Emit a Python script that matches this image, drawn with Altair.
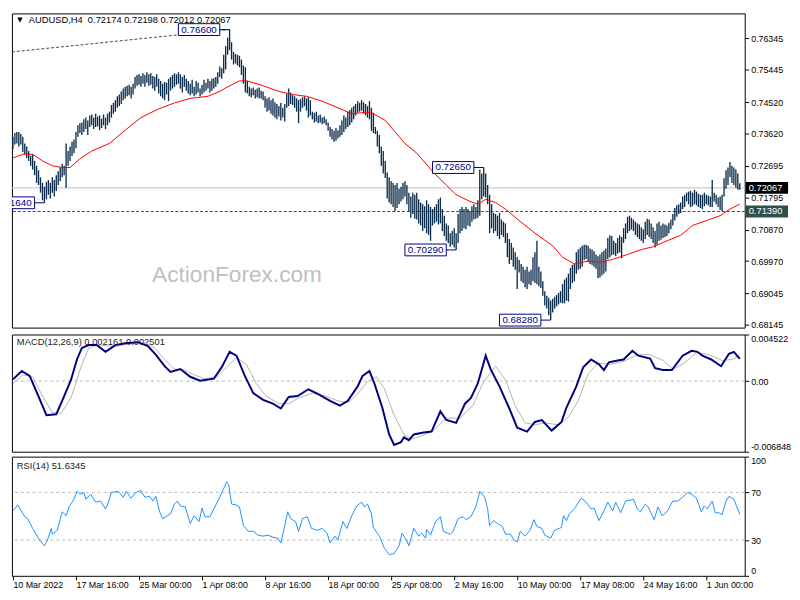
import json
import altair as alt
import pandas as pd

# ---------------- data ----------------
# bar index 0 = 10 Mar 2022 00:00, H4 bars
x_tick_bars = [0, 32, 64, 96, 128, 160, 192, 224, 256, 288, 320, 352]
x_tick_labels = ["10 Mar 2022", "17 Mar 16:00", "25 Mar 00:00", "1 Apr 08:00",
                 "8 Apr 16:00", "18 Apr 00:00", "25 Apr 08:00", "2 May 16:00",
                 "10 May 00:00", "17 May 08:00", "24 May 16:00", "1 Jun 00:00"]
price_ticks = [0.76345, 0.75445, 0.74520, 0.73620, 0.72695, 0.71795,
               0.70870, 0.69970, 0.69045, 0.68145]
macd_ticks = [0.004522, 0.0, -0.006848]
rsi_ticks = [100, 70, 30, 0]
rsi_levels = [70, 30]

# bar highs / lows in pips (1/10000)
high_pips = [
    7353, 7364, 7367, 7367, 7361, 7353, 7334, 7325, 7312, 7298,
    7303, 7284, 7270, 7257, 7237, 7221, 7210, 7224, 7229, 7221,
    7237, 7229, 7243, 7254, 7265, 7276, 7270, 7334, 7312, 7325,
    7339, 7345, 7367, 7386, 7392, 7394, 7403, 7408, 7400, 7414,
    7417, 7408, 7419, 7411, 7414, 7405, 7417, 7408, 7419, 7425,
    7444, 7450, 7458, 7469, 7474, 7483, 7491, 7496, 7499, 7502,
    7496, 7505, 7524, 7530, 7532, 7527, 7535, 7530, 7538, 7532,
    7535, 7527, 7524, 7532, 7519, 7513, 7505, 7510, 7508, 7519,
    7524, 7530, 7535, 7532, 7538, 7532, 7524, 7530, 7519, 7513,
    7505, 7516, 7496, 7513, 7508, 7491, 7502, 7516, 7508, 7519,
    7513, 7519, 7521, 7524, 7538, 7554, 7549, 7588, 7612, 7637,
    7660, 7624, 7596, 7590, 7588, 7585, 7574, 7557, 7552, 7513,
    7496, 7491, 7494, 7488, 7491, 7494, 7485, 7483, 7469, 7463,
    7466, 7458, 7463, 7452, 7447, 7441, 7450, 7436, 7447, 7477,
    7491, 7480, 7472, 7469, 7463, 7458, 7461, 7466, 7469, 7463,
    7466, 7458, 7425, 7422, 7425, 7414, 7417, 7408, 7411, 7403,
    7394, 7381, 7375, 7370, 7378, 7372, 7386, 7400, 7414, 7408,
    7425, 7430, 7436, 7441, 7447, 7455, 7450, 7458, 7452, 7447,
    7441, 7455, 7436, 7422, 7381, 7370, 7358, 7325, 7312, 7284,
    7251, 7237, 7226, 7221, 7215, 7221, 7204, 7210, 7221, 7226,
    7215, 7193, 7182, 7193, 7187, 7193, 7174, 7165, 7160, 7154,
    7171, 7160, 7152, 7146, 7152, 7160, 7174, 7179, 7146, 7127,
    7105, 7099, 7077, 7083, 7091, 7077, 7132, 7146, 7152, 7146,
    7152, 7146, 7141, 7154, 7160, 7152, 7171, 7259, 7248, 7265,
    7248, 7215, 7187, 7160, 7135, 7132, 7127, 7135, 7116, 7110,
    7105, 7077, 7060, 7049, 7036, 7022, 7008, 7000, 6989, 6981,
    6972, 6981, 6967, 6972, 7008, 7022, 7055, 6981, 6967, 6939,
    6911, 6898, 6892, 6884, 6889, 6895, 6900, 6906, 6911, 6931,
    6944, 6950, 6961, 6978, 6986, 6989, 7022, 7030, 7036, 7041,
    7044, 7044, 7041, 7033, 7030, 7025, 7016, 7011, 7016, 7022,
    7027, 7033, 7063, 7071, 7069, 7055, 7049, 7063, 7071, 7066,
    7091, 7105, 7124, 7127, 7121, 7116, 7110, 7105, 7102, 7094,
    7088, 7110, 7118, 7116, 7105, 7094, 7083, 7105, 7110, 7099,
    7105, 7102, 7099, 7107, 7116, 7132, 7149, 7157, 7160, 7165,
    7182, 7187, 7193, 7196, 7198, 7193, 7201, 7196, 7190, 7187,
    7187, 7193, 7187, 7185, 7182, 7229, 7193, 7187, 7179, 7182,
    7187, 7234, 7257, 7265, 7281, 7270, 7265, 7259, 7248, 7220,
]
low_pips = [
    7317, 7331, 7334, 7325, 7331, 7309, 7303, 7292, 7284, 7270,
    7259, 7243, 7221, 7215, 7193, 7171, 7164, 7174, 7187, 7176,
    7193, 7182, 7198, 7215, 7226, 7237, 7243, 7207, 7270, 7284,
    7298, 7306, 7320, 7353, 7364, 7358, 7367, 7375, 7358, 7381,
    7386, 7375, 7381, 7383, 7372, 7378, 7386, 7375, 7386, 7394,
    7408, 7419, 7425, 7436, 7441, 7447, 7458, 7463, 7469, 7472,
    7463, 7474, 7491, 7499, 7502, 7496, 7505, 7496, 7508, 7499,
    7502, 7491, 7485, 7496, 7477, 7469, 7463, 7458, 7474, 7455,
    7485, 7491, 7496, 7502, 7505, 7491, 7480, 7496, 7485, 7477,
    7472, 7477, 7469, 7474, 7480, 7469, 7474, 7480, 7485, 7491,
    7480, 7485, 7491, 7496, 7505, 7524, 7519, 7535, 7546, 7588,
    7601, 7574, 7560, 7563, 7557, 7552, 7530, 7505, 7480, 7477,
    7469, 7466, 7472, 7463, 7466, 7463, 7463, 7458, 7436, 7425,
    7428, 7419, 7414, 7408, 7403, 7411, 7400, 7408, 7397, 7436,
    7441, 7447, 7444, 7436, 7425, 7392, 7425, 7436, 7441, 7428,
    7408, 7414, 7403, 7394, 7397, 7392, 7394, 7389, 7392, 7386,
    7370, 7353, 7345, 7339, 7342, 7348, 7353, 7358, 7367, 7375,
    7381, 7386, 7394, 7403, 7414, 7422, 7425, 7428, 7419, 7414,
    7408, 7403, 7370, 7364, 7361, 7325, 7306, 7270, 7248, 7235,
    7176, 7165, 7160, 7152, 7140, 7149, 7160, 7168, 7174, 7182,
    7160, 7140, 7121, 7132, 7118, 7116, 7105, 7099, 7083, 7091,
    7077, 7072, 7055, 7099, 7105, 7110, 7102, 7105, 7083, 7069,
    7055, 7049, 7038, 7044, 7036, 7029, 7049, 7077, 7083, 7091,
    7088, 7099, 7096, 7110, 7116, 7118, 7121, 7127, 7174, 7182,
    7179, 7160, 7077, 7091, 7077, 7083, 7069, 7060, 7072, 7066,
    7049, 7008, 6989, 7000, 6981, 6972, 6917, 6964, 6939, 6934,
    6922, 6917, 6931, 6928, 6939, 6934, 6931, 6925, 6920, 6898,
    6870, 6861, 6842, 6828, 6850, 6861, 6867, 6873, 6878, 6876,
    6876, 6884, 6881, 6917, 6934, 6939, 6961, 6972, 6975, 6981,
    7000, 7003, 6994, 6989, 6986, 6981, 6975, 6948, 6950, 6956,
    6961, 6967, 7003, 7008, 7014, 7016, 7011, 7019, 7022, 7005,
    7049, 7060, 7077, 7083, 7088, 7083, 7072, 7066, 7060, 7055,
    7049, 7060, 7072, 7066, 7060, 7049, 7036, 7044, 7055, 7058,
    7063, 7066, 7069, 7077, 7088, 7099, 7113, 7124, 7132, 7135,
    7146, 7152, 7168, 7160, 7152, 7154, 7160, 7157, 7152, 7149,
    7146, 7154, 7160, 7157, 7152, 7152, 7168, 7160, 7152, 7143,
    7139, 7182, 7204, 7215, 7237, 7221, 7215, 7207, 7201, 7201,
]

# red moving average (bar index, pips)
ma_bars = [0, 5, 10, 15, 20, 25, 29, 34, 40, 49, 57, 65, 74, 82, 90, 99, 105, 109,
           115, 119, 127, 135, 142, 149, 157, 165, 172, 177, 182, 189, 194, 199,
           205, 214, 220, 225, 232, 236, 240, 245, 250, 257, 265, 274, 279, 285,
           292, 299, 305, 312, 319, 325, 332, 339, 345, 352, 359, 364, 369]
ma_pips = [7292, 7303, 7303, 7284, 7270, 7265, 7265, 7290, 7312, 7334, 7372, 7408,
           7433, 7450, 7463, 7469, 7483, 7496, 7513, 7513, 7499, 7483, 7474, 7469,
           7455, 7436, 7419, 7422, 7422, 7400, 7367, 7334, 7306, 7248, 7215, 7187,
           7168, 7160, 7174, 7165, 7146, 7113, 7077, 7041, 7008, 6989, 6997, 6994,
           7003, 7016, 7030, 7038, 7055, 7071, 7099, 7113, 7127, 7146, 7160]

# MACD main line
macd_bars = [0, 4.5, 8.5, 12.5, 17, 22, 25, 29.5, 32.5, 35, 38.5, 42.5, 47, 52, 57,
             63.5, 68.5, 72.5, 77, 80, 85, 90, 95, 102, 106, 110, 113.5, 117.5, 122,
             127, 132, 136, 140, 144.5, 150, 155, 161, 166, 170, 175, 177.5, 181,
             183.5, 187.5, 191, 193.5, 197, 198.5, 201, 203.5, 208.5, 212.5, 217,
             220, 225, 229.5, 232.5, 236, 240, 242.5, 247, 252, 256, 261, 265, 268.5,
             273.5, 278.5, 281, 286, 289.5, 293.5, 297.5, 300, 302.5, 307, 310,
             314.5, 317.5, 323.5, 326, 330, 334.5, 340, 344.5, 347.5, 350, 354.5,
             359.5, 363.5, 366, 369]
macd_values = [0.000170, 0.000980, 0.000514, -0.001256, -0.003307, -0.003214,
               -0.001909, 0.000142, 0.002099, 0.003217, 0.003497, 0.003497,
               0.002844, 0.003497, 0.003683, 0.003776, 0.003404, 0.002565,
               0.001446, 0.000887, 0.001167, 0.000421, 0.000048, 0.000235,
               0.001353, 0.002844, 0.002472, 0.000608, -0.001163, -0.001816,
               -0.002188, -0.002654, -0.001536, -0.001443, -0.000790, -0.001256,
               -0.001909, -0.002375, -0.001909, -0.000511, 0.000514, 0.000980,
               -0.000231, -0.002561, -0.005171, -0.006196, -0.005916, -0.005450,
               -0.005730, -0.005171, -0.004984, -0.004891, -0.002934, -0.003773,
               -0.004052, -0.002188, -0.001629, -0.000231, 0.002472, 0.001167,
               -0.000511, -0.002654, -0.004518, -0.004891, -0.003959, -0.003773,
               -0.004798, -0.003959, -0.002561, -0.000511, 0.001353, 0.002099,
               0.001633, 0.001074, 0.001819, 0.002006, 0.002099, 0.002938,
               0.002472, 0.002192, 0.001260, 0.001074, 0.001074, 0.002472,
               0.002938, 0.002844, 0.002472, 0.002099, 0.001446, 0.002658,
               0.002844, 0.002161]

# MACD signal line
signal_bars = [0, 5, 10, 15, 20, 24.5, 29.5, 34.5, 38.5, 42.5, 48.5, 53.5, 60, 67,
               72, 77, 82, 87, 92, 97, 103.5, 108.5, 113.5, 118.5, 123.5, 128.5,
               135, 140, 145, 152, 158.5, 165, 170, 175, 180, 184.5, 188.5, 193.5,
               198.5, 202, 207, 213.5, 220, 227, 233.5, 238.5, 245, 250, 255, 260,
               265, 270, 277, 282, 287, 292, 297, 303.5, 310, 317, 323.5, 330, 335,
               340, 347, 353.5, 360, 365, 369]
signal_values = [-0.000231, 0.000608, 0.000421, -0.001443, -0.003027, -0.003120,
                 -0.001629, 0.001353, 0.003217, 0.003497, 0.003404, 0.003404,
                 0.003683, 0.003683, 0.003217, 0.002099, 0.001167, 0.001074,
                 0.000608, 0.000235, 0.000421, 0.001353, 0.002285, 0.001633,
                 -0.000231, -0.001443, -0.002188, -0.002188, -0.001629, -0.001163,
                 -0.001443, -0.001909, -0.002095, -0.001256, -0.000045, 0.000421,
                 -0.000697, -0.003307, -0.005171, -0.005637, -0.005357, -0.004798,
                 -0.003586, -0.003586, -0.002375, -0.000231, 0.001446, 0.000142,
                 -0.002375, -0.004052, -0.004239, -0.004052, -0.004239, -0.003493,
                 -0.001909, 0.000701, 0.001726, 0.001633, 0.001912, 0.002565,
                 0.002565, 0.002006, 0.001167, 0.001633, 0.002751, 0.002565,
                 0.002006, 0.002099, 0.002501]

# RSI(14)
rsi_bars = [0, 2.5, 6, 7.5, 10, 13.5, 16, 17.5, 19.5, 20, 22.5, 25, 27, 28.5, 31,
            32.5, 34.5, 36, 37, 39.5, 42, 44.5, 47, 48.5, 50, 53.5, 56, 57.5, 60,
            62.5, 65, 67, 69.5, 71, 72.5, 74.5, 76, 78.5, 80, 82, 83.5, 85, 87.5,
            90, 92, 94.5, 96, 97.5, 100, 102, 104.5, 106, 107.5, 108.5, 109.5, 111,
            113.5, 115, 117, 119.5, 122, 124.5, 127, 129.5, 132, 134.5, 136, 137.5,
            139.5, 141, 143.5, 145, 147, 149.5, 151.5, 154.5, 157, 159.5, 161,
            163.5, 165, 167.5, 169.5, 172, 174.5, 177, 178.5, 180, 182, 183, 186,
            188.5, 191, 193.5, 196, 197.5, 198.5, 200, 201, 203.5, 206, 207.5,
            209.5, 210, 212, 214.5, 217, 218.5, 222, 223.5, 226, 228.5, 230, 232.5,
            235, 237, 239.5, 241, 242, 244, 246, 248.5, 250, 252.5, 254.5, 256,
            257.5, 260, 262.5, 264.5, 266, 268.5, 270, 273, 275, 278.5, 279.5, 281,
            282.5, 285, 288.5, 291, 293.5, 295, 297.5, 300, 302, 304.5, 306, 308.5,
            311, 313.5, 315, 317, 318.5, 321, 322.5, 325.5, 327.5, 329.5, 332, 335,
            337.5, 340, 342.5, 344.5, 347, 349.5, 351, 352.5, 355, 356.5, 358.5,
            360, 362, 363.5, 366, 367.5, 369]
rsi_values = [54.5, 59.4, 49.6, 48.0, 39.8, 30.0, 25.1, 30.0, 39.8, 34.9, 38.2, 53.7,
              50.4, 57.8, 64.3, 70.8, 68.4, 70.0, 64.3, 68.4, 61.8, 62.7, 56.1, 61.8,
              70.0, 70.8, 65.9, 70.8, 65.1, 70.0, 71.6, 65.9, 66.7, 62.7, 66.7, 53.7,
              48.0, 50.4, 52.0, 60.2, 62.7, 58.6, 57.8, 43.9, 50.4, 45.5, 56.9, 49.6,
              49.6, 56.1, 64.3, 70.0, 74.9, 79.0, 76.5, 60.2, 59.4, 57.8, 42.2, 37.3,
              37.3, 34.1, 33.3, 34.1, 32.4, 31.6, 27.6, 38.2, 53.7, 48.0, 45.5, 37.3,
              48.0, 49.6, 39.8, 38.2, 39.8, 35.7, 27.6, 33.3, 30.0, 45.5, 39.8, 50.4,
              58.6, 61.8, 57.8, 60.2, 52.0, 40.6, 33.3, 23.5, 17.8, 18.6, 25.1, 35.7,
              33.3, 29.2, 25.1, 39.8, 33.3, 35.7, 31.6, 39.0, 34.1, 45.5, 49.6, 37.3,
              34.9, 37.3, 48.0, 49.6, 47.1, 49.6, 57.8, 70.8, 65.9, 56.1, 42.2, 46.3,
              43.9, 41.4, 34.9, 34.9, 30.0, 28.4, 37.3, 33.3, 38.2, 47.1, 41.4, 39.8,
              34.1, 31.6, 38.2, 40.6, 50.4, 46.3, 52.0, 56.1, 65.1, 61.8, 56.1, 56.9,
              46.3, 54.5, 61.8, 54.5, 61.8, 52.9, 62.7, 63.5, 64.3, 56.1, 53.7, 60.2,
              57.8, 47.1, 57.8, 50.4, 53.7, 62.7, 62.7, 65.9, 70.0, 68.4, 65.1, 53.7,
              58.6, 56.1, 62.7, 52.9, 52.9, 51.2, 62.7, 66.7, 64.3, 57.8, 51.6345]

# swing high / low labels
swing_bars = [110, 239, 225, 273, 16]
swing_prices = [0.76600, 0.72650, 0.70290, 0.68280, 0.71640]
# drawn trend line (start, end)
trend_bars = [-0.5, 110]
trend_prices = [0.7596, 0.7660]
last_price = 0.72067
level_price = 0.71390
header_main = "AUDUSD,H4 \u00a00.72174 0.72198 0.72012 0.72067"
header_macd = "MACD(12,26,9) 0.002161 0.002501"
header_rsi = "RSI(14) 51.6345"
watermark_text = "ActionForex.com"

# ---------------- chart ----------------
W = 744
H_MAIN = 319
H_MACD = 119
H_RSI = 121
FONT = "Liberation Sans"
BAR_COLOR = "#0b2b4a"
NAVY = "#000080"
SLATE = "#2f4f4f"

x_scale = alt.Scale(domain=[-0.5, 371.5], nice=False, zero=False)
price_scale = alt.Scale(domain=[0.68065, 0.77063], nice=False, zero=False)
macd_scale = alt.Scale(domain=[-0.006848, 0.004522], nice=False, zero=False)
rsi_scale = alt.Scale(domain=[0, 100], nice=False, zero=False)

price_axis = alt.Axis(orient="right", values=price_ticks, format=".5f", title=None,
                      tickSize=4, labelPadding=2, grid=False, domain=False)
macd_axis = alt.Axis(orient="right", values=macd_ticks, title=None, tickSize=4,
                     labelPadding=2, grid=False, domain=False, labelFlush=True,
                     labelExpr="datum.value == 0 ? '0.00' : (datum.value < 0 ? '-' + format(-datum.value, '.6f') : format(datum.value, '.6f'))")
rsi_axis = alt.Axis(orient="right", values=rsi_ticks, format="d", title=None,
                    tickSize=4, labelPadding=2, grid=False, domain=False, labelFlush=True)
x_axis = alt.Axis(values=x_tick_bars, title=None, tickSize=4, labelPadding=1,
                  labelAlign="left", labelOverlap=False, labelFlush=False,
                  grid=False, domain=False,
                  labelExpr=json.dumps(x_tick_labels) + "[indexof(" + json.dumps(x_tick_bars) + ", datum.value)]")

XN = alt.X("bar:Q", scale=x_scale, axis=None)


def PY(field):
    return alt.Y(field, type="quantitative", scale=price_scale, axis=price_axis)


bars_df = pd.DataFrame({"bar": list(range(len(high_pips))),
                        "high": [h / 10000 for h in high_pips],
                        "low": [v / 10000 for v in low_pips]})
ma_df = pd.DataFrame({"bar": ma_bars, "ma": [v / 10000 for v in ma_pips]})
swing_df = pd.DataFrame({"bar": swing_bars, "price": swing_prices,
                         "text": [f"{p:.5f}" for p in swing_prices]})
trend_df = pd.DataFrame({"bar": trend_bars, "price": trend_prices})
tags_df = pd.DataFrame({"price": [last_price, level_price],
                        "text": [f"{last_price:.5f}", f"{level_price:.5f}"],
                        "bg": ["#000000", SLATE]})

watermark = alt.Chart(pd.DataFrame({"bar": [113.75], "price": [0.69556], "text": [watermark_text]})).mark_text(
    font=FONT, fontSize=23, color="#c0c0c0", align="center", baseline="middle"
).encode(x=XN, y=PY("price"), text="text:N")

last_rule = alt.Chart(pd.DataFrame({"price": [last_price]})).mark_rule(
    color="#c0c0c0", strokeWidth=1).encode(y=PY("price"))
level_rule = alt.Chart(pd.DataFrame({"price": [level_price]})).mark_rule(
    color=SLATE, strokeWidth=1, strokeDash=[3, 2]).encode(y=PY("price"))
trend = alt.Chart(trend_df).mark_line(color=SLATE, strokeWidth=1, strokeDash=[3, 2], clip=True).encode(
    x=XN, y=PY("price"))
bars = alt.Chart(bars_df).mark_rule(color=BAR_COLOR, strokeWidth=1.35).encode(
    x=XN, y=PY("low"), y2="high:Q")
ma = alt.Chart(ma_df).mark_line(color="#ff0000", strokeWidth=1).encode(x=XN, y=PY("ma"))
conn = alt.Chart(swing_df).mark_rule(color=NAVY, strokeWidth=1, xOffset=-10, clip=True).encode(
    x=XN, x2="bar:Q", y=PY("price"))
box = alt.Chart(swing_df).mark_rect(fill="white", stroke=NAVY, strokeWidth=1,
                                    xOffset=-52, x2Offset=-10, yOffset=-6, y2Offset=6,
                                    clip=True).encode(
    x=XN, x2="bar:Q", y=PY("price"), y2="price:Q")
box_text = alt.Chart(swing_df).mark_text(font=FONT, fontSize=10, color=NAVY, dx=-31,
                                         align="center", baseline="middle", clip=True).encode(
    x=XN, y=PY("price"), text="text:N")
hdr = alt.Chart(pd.DataFrame({"bar": [8], "price": [0.7688], "text": [header_main]})).mark_text(
    font=FONT, fontSize=9.5, color="black", align="left", baseline="middle").encode(
    x=XN, y=PY("price"), text="text:N")
tri = alt.Chart(pd.DataFrame({"bar": [3.5], "price": [0.7688], "text": ["\u25bc"]})).mark_text(
    font="DejaVu Sans", fontSize=7, color="black", align="center", baseline="middle").encode(
    x=XN, y=PY("price"), text="text:N")
tag_rect = alt.Chart(tags_df).mark_rect(yOffset=-6, y2Offset=6).encode(
    x=alt.value(W + 1), x2=alt.value(W + 44), y=PY("price"), y2="price:Q",
    color=alt.Color("bg:N", scale=None))
tag_text = alt.Chart(tags_df).mark_text(font=FONT, fontSize=9.5, color="white",
                                        align="left", baseline="middle").encode(
    x=alt.value(W + 4), y=PY("price"), text="text:N")

main = alt.layer(watermark, last_rule, level_rule, trend, bars, ma, conn, box, box_text,
                 hdr, tri, tag_rect, tag_text).properties(width=W, height=H_MAIN)

# MACD panel
MY = lambda f: alt.Y(f, type="quantitative", scale=macd_scale, axis=macd_axis)
macd_hdr = alt.Chart(pd.DataFrame({"bar": [2], "v": [0.00375], "text": [header_macd]})).mark_text(
    font=FONT, fontSize=9.5, color="#222222", align="left", baseline="middle").encode(
    x=XN, y=MY("v"), text="text:N")
macd_zero = alt.Chart(pd.DataFrame({"v": [0.0]})).mark_rule(
    color="#b8b8b8", strokeDash=[3, 3], strokeWidth=1).encode(y=MY("v"))
sig_line = alt.Chart(pd.DataFrame({"bar": signal_bars, "v": signal_values})).mark_line(
    color="#b4b4b4", strokeWidth=1).encode(x=XN, y=MY("v"))
macd_line = alt.Chart(pd.DataFrame({"bar": macd_bars, "v": macd_values})).mark_line(
    color=NAVY, strokeWidth=2).encode(x=XN, y=MY("v"))
macd_panel = alt.layer(macd_hdr, macd_zero, sig_line, macd_line).properties(width=W, height=H_MACD)

# RSI panel
XR = alt.X("bar:Q", scale=x_scale, axis=x_axis)
RY = lambda f: alt.Y(f, type="quantitative", scale=rsi_scale, axis=rsi_axis)
rsi_hdr = alt.Chart(pd.DataFrame({"bar": [2], "v": [92], "text": [header_rsi]})).mark_text(
    font=FONT, fontSize=9.5, color="#222222", align="left", baseline="middle").encode(
    x=XR, y=RY("v"), text="text:N")
rsi_lv = alt.Chart(pd.DataFrame({"v": rsi_levels})).mark_rule(
    color="#b8b8b8", strokeDash=[3, 3], strokeWidth=1).encode(y=RY("v"))
rsi_line = alt.Chart(pd.DataFrame({"bar": rsi_bars, "v": rsi_values})).mark_line(
    color="#1e90ff", strokeWidth=1).encode(x=XR, y=RY("v"))
rsi_panel = alt.layer(rsi_hdr, rsi_lv, rsi_line).properties(width=W, height=H_RSI)

chart = alt.vconcat(main, macd_panel, rsi_panel, spacing=3).properties(
    padding={"left": 0, "top": 0, "right": 0, "bottom": 2},
    background="white",
).configure_view(stroke="black", strokeWidth=1).configure_axis(
    labelFont=FONT, labelFontSize=9, labelColor="black", tickColor="black", tickWidth=1
)

chart.save("out.html", embed_options={"renderer": "svg", "actions": False})
